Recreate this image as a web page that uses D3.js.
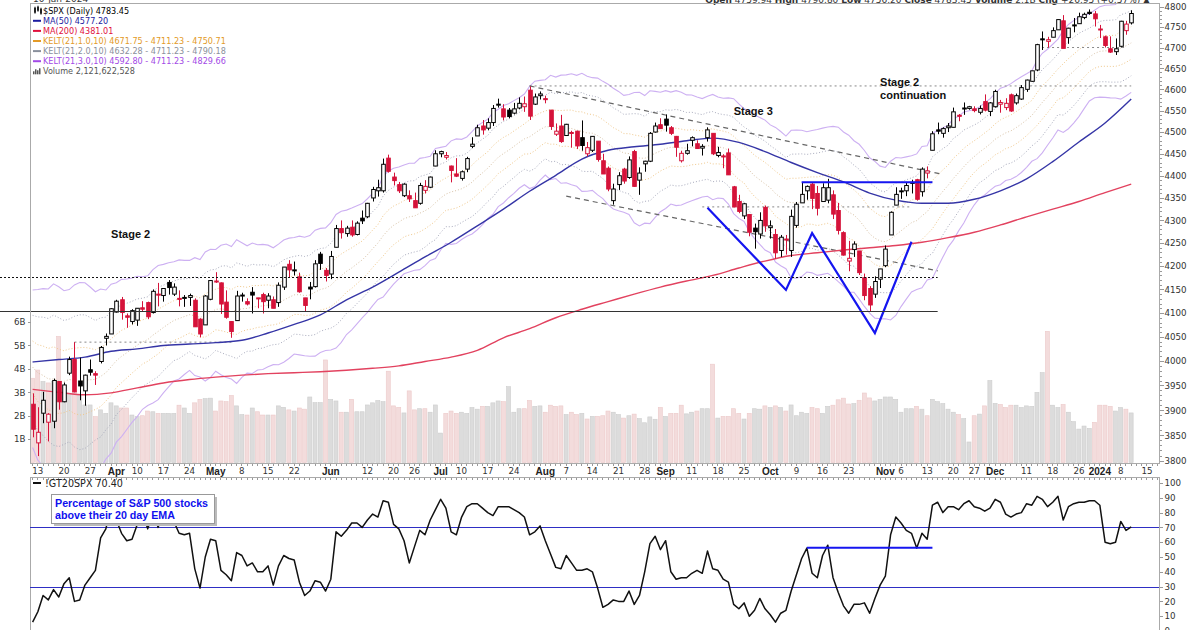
<!DOCTYPE html>
<html>
<head>
<meta charset="utf-8">
<script src="https://cdn.jsdelivr.net/npm/d3@7"></script>
<style>
  body { margin: 0; background: #fff; }
  svg { display: block; }
  .ax text { font-family: "DejaVu Sans", Verdana, sans-serif; font-size: 8.7px; fill: #333; }
  .ax line, .ax path { stroke: #999; shape-rendering: crispEdges; }
</style>
</head>
<body>
<div id="chart"></div>
<script>
// $SPX daily: [date, open, high, low, close]
const candles = [
["2023-03-10",3912,3934,3846,3862],["2023-03-13",3835,3906,3809,3856],["2023-03-14",3894,3937,3874,3920],
["2023-03-15",3876,3894,3838,3892],["2023-03-16",3878,3964,3864,3960],["2023-03-17",3958,3959,3901,3917],
["2023-03-20",3917,3956,3916,3951],["2023-03-21",3975,4009,3971,4003],["2023-03-22",4003,4039,3936,3937],
["2023-03-23",3959,4007,3920,3949],["2023-03-24",3939,3972,3909,3971],["2023-03-27",3982,4003,3970,3977],
["2023-03-28",3974,3979,3951,3971],["2023-03-29",3999,4031,3995,4028],["2023-03-30",4047,4057,4032,4051],
["2023-03-31",4056,4110,4056,4109],["2023-04-03",4102,4128,4101,4125],["2023-04-04",4128,4134,4086,4101],
["2023-04-05",4094,4099,4069,4091],["2023-04-06",4082,4108,4076,4105],["2023-04-10",4085,4110,4073,4110],
["2023-04-11",4111,4125,4103,4108],["2023-04-12",4122,4124,4087,4092],["2023-04-13",4101,4150,4099,4146],
["2023-04-14",4140,4164,4114,4138],["2023-04-17",4137,4152,4124,4152],["2023-04-18",4165,4170,4139,4154],
["2023-04-19",4140,4163,4136,4155],["2023-04-20",4131,4148,4114,4130],["2023-04-21",4132,4138,4113,4133],
["2023-04-24",4133,4141,4115,4137],["2023-04-25",4127,4131,4071,4071],["2023-04-26",4087,4089,4049,4056],
["2023-04-27",4075,4138,4075,4136],["2023-04-28",4129,4170,4127,4169],["2023-05-01",4166,4187,4164,4168],
["2023-05-02",4164,4165,4098,4119],["2023-05-03",4123,4148,4088,4091],["2023-05-04",4082,4083,4048,4061],
["2023-05-05",4084,4147,4084,4136],["2023-05-08",4136,4143,4124,4138],["2023-05-09",4124,4131,4116,4119],
["2023-05-10",4144,4155,4099,4138],["2023-05-11",4132,4132,4110,4131],["2023-05-12",4139,4143,4099,4124],
["2023-05-15",4127,4142,4110,4136],["2023-05-16",4128,4135,4110,4110],["2023-05-17",4122,4165,4113,4159],
["2023-05-18",4155,4198,4149,4198],["2023-05-19",4204,4213,4176,4192],["2023-05-22",4191,4210,4180,4192],
["2023-05-23",4177,4186,4143,4145],["2023-05-24",4132,4132,4104,4116],["2023-05-25",4155,4166,4129,4151],
["2023-05-26",4156,4213,4154,4205],["2023-05-30",4226,4231,4192,4206],["2023-05-31",4191,4196,4167,4180],
["2023-06-01",4183,4233,4172,4221],["2023-06-02",4241,4290,4241,4282],["2023-06-05",4282,4300,4260,4273],
["2023-06-06",4271,4288,4264,4283],["2023-06-07",4285,4300,4264,4268],["2023-06-08",4269,4298,4267,4294],
["2023-06-09",4305,4322,4292,4299],["2023-06-12",4308,4339,4305,4338],["2023-06-13",4350,4375,4342,4369],
["2023-06-14",4366,4391,4353,4373],["2023-06-15",4366,4439,4362,4426],["2023-06-16",4440,4448,4407,4410],
["2023-06-20",4397,4407,4378,4389],["2023-06-21",4380,4386,4361,4366],["2023-06-22",4355,4383,4352,4381],
["2023-06-23",4355,4367,4341,4348],["2023-06-26",4344,4362,4328,4328],["2023-06-27",4338,4384,4335,4378],
["2023-06-28",4367,4390,4360,4376],["2023-06-29",4374,4398,4372,4397],["2023-06-30",4422,4458,4422,4450],
["2023-07-03",4450,4457,4442,4455],["2023-07-05",4442,4454,4437,4446],["2023-07-06",4422,4423,4385,4412],
["2023-07-07",4404,4440,4397,4399],["2023-07-10",4394,4412,4389,4409],["2023-07-11",4415,4443,4408,4439],
["2023-07-12",4467,4488,4463,4472],["2023-07-13",4491,4517,4491,4510],["2023-07-14",4514,4528,4494,4505],
["2023-07-17",4509,4532,4504,4522],["2023-07-18",4522,4563,4514,4555],["2023-07-19",4563,4578,4557,4565],
["2023-07-20",4554,4565,4527,4535],["2023-07-21",4551,4556,4532,4536],["2023-07-24",4544,4568,4541,4554],
["2023-07-25",4556,4581,4553,4567],["2023-07-26",4559,4583,4547,4566],["2023-07-27",4598,4607,4528,4537],
["2023-07-28",4565,4590,4563,4582],["2023-07-31",4585,4595,4576,4589],["2023-08-01",4578,4585,4567,4577],
["2023-08-02",4551,4551,4505,4513],["2023-08-03",4495,4520,4491,4502],["2023-08-04",4514,4540,4475,4478],
["2023-08-07",4492,4519,4492,4518],["2023-08-08",4498,4503,4464,4499],["2023-08-09",4502,4503,4461,4468],
["2023-08-10",4487,4527,4457,4469],["2023-08-11",4450,4477,4444,4464],["2023-08-14",4458,4490,4454,4490],
["2023-08-15",4479,4479,4432,4437],["2023-08-16",4434,4450,4404,4404],["2023-08-17",4417,4421,4365,4370],
["2023-08-18",4344,4382,4335,4370],["2023-08-21",4380,4408,4368,4400],["2023-08-22",4415,4418,4382,4388],
["2023-08-23",4396,4444,4393,4436],["2023-08-24",4455,4459,4375,4376],["2023-08-25",4390,4419,4357,4406],
["2023-08-28",4427,4434,4409,4433],["2023-08-29",4433,4500,4431,4497],["2023-08-30",4500,4522,4499,4514],
["2023-08-31",4517,4532,4508,4508],["2023-09-01",4530,4541,4501,4516],["2023-09-05",4510,4514,4493,4497],
["2023-09-06",4490,4491,4443,4465],["2023-09-07",4434,4457,4430,4451],["2023-09-08",4451,4473,4448,4457],
["2023-09-11",4481,4490,4467,4487],["2023-09-12",4473,4481,4461,4462],["2023-09-13",4463,4472,4446,4467],
["2023-09-14",4487,4511,4478,4505],["2023-09-15",4497,4497,4447,4450],["2023-09-18",4446,4466,4442,4453],
["2023-09-19",4445,4449,4417,4444],["2023-09-20",4452,4462,4402,4402],["2023-09-21",4375,4377,4329,4330],
["2023-09-22",4342,4357,4316,4320],["2023-09-25",4310,4339,4303,4337],["2023-09-26",4313,4313,4265,4274],
["2023-09-27",4283,4293,4238,4275],["2023-09-28",4270,4318,4260,4300],["2023-09-29",4329,4333,4275,4288],
["2023-10-02",4284,4300,4260,4288],["2023-10-03",4269,4281,4216,4229],["2023-10-04",4234,4268,4220,4263],
["2023-10-05",4259,4268,4225,4258],["2023-10-06",4234,4324,4220,4309],["2023-10-09",4289,4341,4284,4336],
["2023-10-10",4339,4385,4339,4358],["2023-10-11",4366,4378,4346,4376],["2023-10-12",4381,4385,4325,4349],
["2023-10-13",4360,4377,4311,4327],["2023-10-16",4342,4383,4342,4373],["2023-10-17",4345,4393,4338,4373],
["2023-10-18",4357,4367,4303,4314],["2023-10-19",4322,4339,4269,4278],["2023-10-20",4273,4276,4223,4224],
["2023-10-23",4211,4255,4189,4217],["2023-10-24",4236,4254,4220,4248],["2023-10-25",4233,4233,4181,4186],
["2023-10-26",4175,4184,4127,4137],["2023-10-27",4152,4157,4104,4117],["2023-10-30",4140,4178,4132,4167],
["2023-10-31",4172,4194,4153,4194],["2023-11-01",4201,4245,4198,4237],["2023-11-02",4268,4320,4268,4318],
["2023-11-03",4334,4374,4334,4358],["2023-11-06",4365,4373,4348,4366],["2023-11-07",4366,4386,4354,4378],
["2023-11-08",4385,4391,4360,4383],["2023-11-09",4391,4393,4344,4347],["2023-11-10",4364,4419,4353,4415],
["2023-11-13",4406,4421,4394,4411],["2023-11-14",4458,4502,4458,4496],["2023-11-15",4505,4522,4495,4502],
["2023-11-16",4497,4511,4487,4508],["2023-11-17",4510,4521,4500,4514],["2023-11-20",4511,4557,4511,4547],
["2023-11-21",4539,4542,4525,4538],["2023-11-22",4554,4569,4540,4556],["2023-11-24",4555,4561,4552,4559],
["2023-11-27",4554,4560,4546,4550],["2023-11-28",4546,4562,4541,4555],["2023-11-29",4571,4588,4548,4551],
["2023-11-30",4548,4570,4537,4568],["2023-12-01",4559,4599,4557,4595],["2023-12-04",4565,4575,4545,4569],
["2023-12-05",4557,4579,4551,4567],["2023-12-06",4587,4590,4547,4549],["2023-12-07",4568,4590,4564,4585],
["2023-12-08",4577,4610,4575,4604],["2023-12-11",4600,4623,4594,4622],["2023-12-12",4619,4644,4618,4644],
["2023-12-13",4646,4709,4643,4707],["2023-12-14",4721,4739,4694,4720],["2023-12-15",4715,4726,4700,4719],
["2023-12-18",4725,4749,4725,4741],["2023-12-19",4743,4768,4743,4768],["2023-12-20",4765,4779,4698,4698],
["2023-12-21",4724,4748,4709,4747],["2023-12-22",4753,4772,4737,4755],["2023-12-26",4758,4785,4758,4775],
["2023-12-27",4773,4785,4769,4781],["2023-12-28",4786,4793,4780,4783],["2023-12-29",4782,4789,4751,4770],
["2024-01-02",4745,4755,4723,4743],["2024-01-03",4726,4729,4700,4705],["2024-01-04",4697,4727,4687,4689],
["2024-01-05",4690,4722,4682,4697],["2024-01-08",4703,4765,4700,4764],["2024-01-09",4741,4765,4731,4757],
["2024-01-10",4760,4791,4756,4783]
];
const prevClose0 = 3918; // close before the first bar

// empty slots to the right of the last bar
const futureSlots = ["2024-01-11", "2024-01-12", "2024-01-16", "2024-01-17", "2024-01-18"];

// daily volume, billions
const volumes = [
3.6,3.95,3.46,3.4,3.46,5.38,3.03,2.96,3.03,2.9,2.46,
2.46,1.96,2.25,2.1,2.55,2.42,2.33,2.33,2.03,1.96,
2.0,2.2,2.17,2.1,2.1,2.1,2.1,2.45,2.33,2.1,
2.55,2.7,2.73,2.75,2.2,2.63,2.6,2.86,2.42,2.05,
2.03,2.33,2.17,2.03,2.03,2.03,2.42,2.36,2.25,2.2,
2.33,2.28,2.8,2.56,2.56,4.38,2.7,2.63,2.15,2.15,
2.7,2.17,2.17,2.46,2.55,2.65,2.6,3.9,2.42,2.36,
2.12,3.06,2.25,2.3,2.3,2.15,2.46,1.26,2.1,2.2,
2.1,2.15,2.1,2.35,2.28,2.4,2.4,2.55,2.63,2.6,
3.24,2.15,2.3,2.3,2.65,2.4,2.42,2.15,2.45,2.4,
2.42,2.05,2.15,2.05,2.1,1.86,1.97,1.97,2.0,2.2,
2.15,2.05,1.9,2.0,2.07,1.88,1.7,1.95,1.85,2.35,
1.97,2.1,2.1,2.45,2.08,2.15,2.2,2.3,2.3,4.2,
1.9,1.97,1.97,2.3,2.1,1.86,2.1,2.3,2.28,2.42,
2.35,2.42,2.35,2.2,2.46,2.0,2.15,2.1,2.35,2.3,
2.1,2.4,2.45,2.68,2.75,2.5,2.52,2.66,2.97,2.76,
2.63,2.7,2.8,2.8,2.7,2.15,2.3,2.3,2.4,2.28,
2.0,2.7,2.6,2.52,2.28,2.15,2.05,1.88,0.88,2.0,
2.07,2.42,3.5,2.53,2.48,2.35,2.45,2.45,2.35,2.42,
2.4,3.0,3.84,5.6,2.45,2.35,2.48,2.15,1.75,1.43,
1.56,1.46,1.72,2.45,2.45,2.4,2.2,2.35,2.28,2.12
];

// !GT20SPX, percent of S&P 500 stocks above their 20 day EMA
const gt20 = [
6,13,24,21,28,23,32,36,20,21, 31,36,41,63,69,84,75,66,61,62,
72,80,69,80,70,82,84,74,66,65, 66,42,29,50,62,61,41,38,34,53,
51,44,46,40,40,44,31,44,51,49, 48,33,24,27,34,33,27,35,67,64,
68,73,73,70,75,79,77,88,87,72, 69,61,46,57,68,65,75,82,89,83,
67,65,77,84,86,86,83,80,78,84, 84,84,82,80,77,65,67,71,61,52,
43,42,51,46,41,41,42,40,29,16, 18,21,20,20,27,18,24,40,59,64,
55,61,40,35,36,36,39,41,39,54, 42,41,35,33,18,15,19,10,14,22,
15,11,6,12,14,27,38,49,56,39, 36,51,58,36,26,17,12,18,18,19,
12,22,31,37,65,77,73,68,66,56, 66,62,85,87,80,84,84,82,86,88,
84,83,81,83,89,87,79,77,79,80, 86,85,91,89,84,87,91,75,84,86,
87,87,88,88,85,60,59,60,74,68, 70.4
];

// moving averages, sampled weekly off the chart
const ma50 = [
["2023-03-10",3998],["2023-03-17",4003],["2023-03-24",4008],["2023-03-31",4020],["2023-04-10",4025],
["2023-04-17",4032],["2023-04-24",4035],["2023-05-01",4038],["2023-05-08",4043],["2023-05-15",4058],
["2023-05-22",4076],["2023-05-30",4096],["2023-06-06",4128],["2023-06-13",4155],["2023-06-21",4187],
["2023-06-28",4220],["2023-07-06",4252],["2023-07-13",4288],["2023-07-20",4325],["2023-07-27",4365],
["2023-08-03",4401],["2023-08-10",4438],["2023-08-17",4458],["2023-08-24",4466],["2023-08-31",4472],
["2023-09-08",4480],["2023-09-15",4486],["2023-09-22",4476],["2023-09-29",4455],["2023-10-06",4430],
["2023-10-13",4407],["2023-10-20",4386],["2023-10-27",4361],["2023-11-03",4345],["2023-11-10",4338],
["2023-11-17",4338],["2023-11-27",4347],["2023-12-04",4366],["2023-12-11",4393],["2023-12-18",4432],
["2023-12-26",4477],["2024-01-03",4521],["2024-01-10",4577]
];
const ma200 = [
["2023-03-10",3942],["2023-03-17",3936],["2023-03-24",3931],["2023-03-31",3935],["2023-04-10",3945],
["2023-04-17",3955],["2023-04-24",3962],["2023-05-01",3967],["2023-05-08",3971],["2023-05-15",3974],
["2023-05-22",3976],["2023-05-30",3978],["2023-06-06",3981],["2023-06-13",3985],["2023-06-21",3990],
["2023-06-28",3999],["2023-07-06",4008],["2023-07-13",4022],["2023-07-20",4048],["2023-07-27",4067],
["2023-08-03",4090],["2023-08-10",4108],["2023-08-17",4124],["2023-08-24",4140],["2023-08-31",4155],
["2023-09-08",4168],["2023-09-15",4180],["2023-09-22",4196],["2023-09-29",4211],["2023-10-06",4223],
["2023-10-13",4229],["2023-10-20",4235],["2023-10-27",4240],["2023-11-03",4245],["2023-11-10",4252],
["2023-11-17",4262],["2023-11-27",4274],["2023-12-04",4290],["2023-12-11",4308],["2023-12-18",4325],
["2023-12-26",4342],["2024-01-03",4362],["2024-01-10",4381]
];

// Keltner seeds (EMA21 and ATR10 going into the first bar)
const keltSeed = { ema: 4000, atr: 50 };
const keltMults = [1, 2, 3];

// x axis labels
const weekTicks = [
["2023-03-13","13"],["2023-03-20","20"],["2023-03-27","27"],["2023-04-10","10"],["2023-04-17","17"],
["2023-04-24","24"],["2023-05-08","8"],["2023-05-15","15"],["2023-05-22","22"],["2023-06-12","12"],
["2023-06-20","20"],["2023-06-26","26"],["2023-07-10","10"],["2023-07-17","17"],["2023-07-24","24"],
["2023-08-07","7"],["2023-08-14","14"],["2023-08-21","21"],["2023-08-28","28"],["2023-09-11","11"],
["2023-09-18","18"],["2023-09-25","25"],["2023-10-09","9"],["2023-10-16","16"],["2023-10-23","23"],
["2023-11-06","6"],["2023-11-13","13"],["2023-11-20","20"],["2023-11-27","27"],["2023-12-11","11"],
["2023-12-18","18"],["2023-12-26","26"],["2024-01-08","8"],["2024-01-16","15"]
];
const monthTicks = [
["2023-04-03","Apr"],["2023-05-01","May"],["2023-06-01","Jun"],["2023-07-03","Jul"],["2023-08-01","Aug"],
["2023-09-01","Sep"],["2023-10-02","Oct"],["2023-11-01","Nov"],["2023-12-01","Dec"],["2024-01-02","2024"]
];

// hand drawn annotations, in [date, price]
const trendLines = [
  [["2023-07-27", 4608], ["2023-11-16", 4403]],
  [["2023-08-07", 4354], ["2023-11-15", 4190]]
];
const wPattern = [["2023-09-14",4328],["2023-10-05",4149],["2023-10-12",4272],["2023-10-30",4058],["2023-11-08",4253]];
const resistance = { from: "2023-10-10", to: "2023-11-14", price: 4385 };
const dottedLevels = [
  { from: "2023-07-27", to: "2024-01-10", price: 4608 },
  { from: "2023-12-13", to: "2024-01-09", price: 4700 },
  { from: "2023-09-13", to: "2023-11-08", price: 4330 },
  { from: "2023-03-22", to: "2023-05-04", price: 4039 }
];
const wideLevels = [ // these run in from the left edge
  { to: "2023-11-15", price: 4177, dash: "2,2" },
  { to: "2023-11-15", price: 4104, dash: null }
];
const stageLabels = [
  { d: "2023-03-31", p: 4261, lines: ["Stage 2"] },
  { d: "2023-09-21", p: 4540, lines: ["Stage 3"] },
  { d: "2023-10-31", p: 4608, lines: ["Stage 2", "continuation"] }
];
const gt20Level = { from: "2023-10-11", to: "2023-11-14", value: 56.3 };

const legendRows = [
  { icon: "candle", text: "$SPX (Daily) 4783.45", color: "#000" },
  { icon: "line", text: "MA(50) 4577.20", color: "#1c1ca0" },
  { icon: "line", text: "MA(200) 4381.01", color: "#e0103c" },
  { icon: "line", text: "KELT(21,1.0,10) 4671.75 - 4711.23 - 4750.71", color: "#e39a28" },
  { icon: "line", text: "KELT(21,2.0,10) 4632.28 - 4711.23 - 4790.18", color: "#8a909c" },
  { icon: "line", text: "KELT(21,3.0,10) 4592.80 - 4711.23 - 4829.66", color: "#a24ae6" },
  { icon: "vol", text: "Volume 2,121,622,528", color: "#555" }
];

// ---------------------------------------------------------------
const W = 1200, H = 630;
const pl = 30, pr = 1159, pt = 3, pb = 463; // price panel
const lt = 477; // lower panel top
const red = "#d5133a";
const font = '"DejaVu Sans", Verdana, sans-serif';
const boldFont = '"Liberation Sans", Arial, sans-serif';

const dates = candles.map((d) => d[0]);
const slots = dates.concat(futureSlots);

const x = d3.scaleBand().domain(slots).range([pl, pr + 1]).paddingInner(0);
const cx = (d) => x(d) + x.bandwidth() / 2;
const y = d3.scaleLog().domain([3800, 4800]).range([460.7, 6.6]);
const yv = d3.scaleLinear().domain([0, 6]).range([462.6, 322]);
const yg = d3.scaleLinear().domain([0, 100]).range([631, 483]);

const svg = d3.select("#chart").append("svg").attr("width", W).attr("height", H);
svg.append("rect").attr("width", W).attr("height", H).attr("fill", "#fff");

svg.append("clipPath").attr("id", "pclip").append("rect")
  .attr("x", pl).attr("y", pt).attr("width", pr - pl).attr("height", pb - pt);
svg.append("clipPath").attr("id", "lclip").append("rect")
  .attr("x", pl).attr("y", lt).attr("width", pr - pl).attr("height", H - lt);

// header, mostly cut off by the top of the image (as in the original)
svg.append("text").attr("x", 33).attr("y", 2).attr("font-family", font).attr("font-size", 9)
  .attr("fill", "#333").text("10-Jan-2024");
const hdr = svg.append("text").attr("x", 1150).attr("y", 2.5).attr("text-anchor", "end")
  .attr("font-family", font).attr("font-size", 9).attr("fill", "#333");
[["Open", " 4759.94 "], ["High", " 4790.80 "], ["Low", " 4756.20 "], ["Close", " 4783.45 "],
 ["Volume", " 2.1B "], ["Chg", " +26.95 (+0.57%) \u25B2"]].forEach(([k, v]) => {
  hdr.append("tspan").attr("font-weight", "bold").text(k);
  hdr.append("tspan").text(v);
});

const price = svg.append("g").attr("clip-path", "url(#pclip)");

// volume bars
const closeBefore = (i) => (i === 0 ? prevClose0 : candles[i - 1][4]);
price.append("g").selectAll("rect").data(candles).join("rect")
  .attr("x", (d) => x(d[0]) + 0.5)
  .attr("width", x.bandwidth() - 1.2)
  .attr("y", (d, i) => yv(volumes[i]))
  .attr("height", (d, i) => yv(0) - yv(volumes[i]))
  .attr("fill", (d, i) => (d[4] < closeBefore(i) ? "#f3dcdc" : "#dcdcdc"))
  .attr("stroke", (d, i) => (d[4] < closeBefore(i) ? "#ecc9c9" : "#cdcdcd"))
  .attr("stroke-width", 0.6);

// Keltner channels from the bars
let ema = keltSeed.ema, atr = keltSeed.atr;
const kelt = candles.map(([d, o, h, l, c], i) => {
  const pc = closeBefore(i);
  const tr = Math.max(h - l, Math.abs(h - pc), Math.abs(l - pc));
  atr = (atr * 9 + tr) / 10;
  ema = ema + ((c - ema) * 2) / 22;
  return { d, mid: ema, atr };
});
const keltStyle = {
  1: { stroke: "#f0c88c", dash: "1,2", w: 1 },
  2: { stroke: "#a9abbd", dash: "1,2", w: 1 },
  3: { stroke: "#cdb0f2", dash: null, w: 1.1 }
};
const kline = d3.line().x((d) => cx(d.d));
keltMults.forEach((m) => {
  [1, -1].forEach((s) => {
    price.append("path").datum(kelt)
      .attr("d", kline.y((d) => y(d.mid + s * m * d.atr)))
      .attr("fill", "none").attr("stroke", keltStyle[m].stroke)
      .attr("stroke-width", keltStyle[m].w)
      .attr("stroke-dasharray", keltStyle[m].dash);
  });
});
price.append("path").datum(kelt).attr("d", kline.y((d) => y(d.mid)))
  .attr("fill", "none").attr("stroke", "#d8c2a6").attr("stroke-dasharray", "1,2");

// dotted / dashed levels and trendlines
dottedLevels.forEach((l) => {
  price.append("line").attr("x1", cx(l.from)).attr("x2", cx(l.to))
    .attr("y1", y(l.price)).attr("y2", y(l.price))
    .attr("stroke", "#888").attr("stroke-dasharray", "2,3");
});
trendLines.forEach((t) => {
  price.append("line").attr("x1", cx(t[0][0])).attr("y1", y(t[0][1]))
    .attr("x2", cx(t[1][0])).attr("y2", y(t[1][1]))
    .attr("stroke", "#666").attr("stroke-width", 1.2).attr("stroke-dasharray", "5,4");
});

// moving averages
const maLine = d3.line().x((d) => cx(d[0])).y((d) => y(d[1])).curve(d3.curveMonotoneX);
price.append("path").datum(ma200).attr("d", maLine).attr("fill", "none")
  .attr("stroke", "#e2425f").attr("stroke-width", 1.4);
price.append("path").datum(ma50).attr("d", maLine).attr("fill", "none")
  .attr("stroke", "#3535a6").attr("stroke-width", 1.4);

// candles
const bw = 3.6;
const cg = price.append("g").selectAll("g").data(candles).join("g");
const candleColor = (d, i) => (d[4] < closeBefore(i) ? red : "#000");
cg.append("line")
  .attr("x1", (d) => Math.round(cx(d[0])) + 0.5).attr("x2", (d) => Math.round(cx(d[0])) + 0.5)
  .attr("y1", (d) => y(d[2])).attr("y2", (d) => y(d[3]))
  .attr("stroke", candleColor).attr("stroke-width", 1);
cg.append("rect")
  .attr("x", (d) => Math.round(cx(d[0])) + 0.5 - bw / 2)
  .attr("width", bw)
  .attr("y", (d) => y(Math.max(d[1], d[4])))
  .attr("height", (d) => Math.max(1, y(Math.min(d[1], d[4])) - y(Math.max(d[1], d[4]))))
  .attr("fill", (d, i) => (d[4] >= d[1] ? "#fff" : candleColor(d, i)))
  .attr("stroke", candleColor).attr("stroke-width", 1);

// blue annotations
price.append("line").attr("x1", cx(resistance.from)).attr("x2", cx(resistance.to))
  .attr("y1", y(resistance.price)).attr("y2", y(resistance.price))
  .attr("stroke", "#1515f0").attr("stroke-width", 2);
price.append("path").datum(wPattern)
  .attr("d", d3.line().x((d) => cx(d[0])).y((d) => y(d[1])))
  .attr("fill", "none").attr("stroke", "#1515f0").attr("stroke-width", 2.2);

// levels that run in from the left edge of the image
wideLevels.forEach((l) => {
  svg.append("line").attr("x1", 0).attr("x2", cx(l.to))
    .attr("y1", Math.round(y(l.price)) + 0.5).attr("y2", Math.round(y(l.price)) + 0.5)
    .attr("stroke", l.dash ? "#111" : "#333").attr("stroke-width", 1)
    .attr("stroke-dasharray", l.dash);
});

// stage labels
stageLabels.forEach((s) => {
  const t = svg.append("text").attr("x", cx(s.d)).attr("y", y(s.p))
    .attr("font-family", boldFont).attr("font-weight", "bold").attr("font-size", 11).attr("fill", "#111");
  s.lines.forEach((ln, i) => t.append("tspan").attr("x", cx(s.d)).attr("dy", i ? 13 : 0).text(ln));
});

// panel frames
svg.append("rect").attr("x", pl + 0.5).attr("y", pt + 0.5).attr("width", pr - pl).attr("height", pb - pt)
  .attr("fill", "none").attr("stroke", "#aaa");
svg.append("rect").attr("x", pl + 0.5).attr("y", lt + 0.5).attr("width", pr - pl).attr("height", H)
  .attr("fill", "none").attr("stroke", "#aaa");

// price axis (right)
svg.append("g").attr("class", "ax").attr("transform", `translate(${pr + 0.5},0)`)
  .call(d3.axisRight(y).tickValues(d3.range(3800, 4801, 10)).tickSize(2).tickFormat(""))
  .call((g) => g.select(".domain").remove());
svg.append("g").attr("class", "ax").attr("transform", `translate(${pr + 0.5},0)`)
  .call(d3.axisRight(y).tickValues(d3.range(3800, 4801, 50)).tickSize(4).tickPadding(1).tickFormat(d3.format("d")))
  .call((g) => g.select(".domain").remove());

// volume axis (left)
svg.append("g").attr("class", "ax").attr("transform", `translate(${pl + 0.5},0)`)
  .call(d3.axisLeft(yv).tickValues([1, 2, 3, 4, 5, 6]).tickSize(3).tickPadding(2).tickFormat((d) => d + "B"))
  .call((g) => g.select(".domain").remove());

// day ticks
[pb + 0.5, lt + 0.5].forEach((yy) => {
  svg.append("g").attr("class", "ax").attr("transform", `translate(0,${yy})`)
    .call(d3.axisBottom(x).tickValues(slots).tickSize(2).tickFormat(""))
    .call((g) => g.select(".domain").remove())
    .call((g) => g.selectAll("line").attr("stroke", "#b0b0b0"));
});

// date labels
svg.append("g").selectAll("text").data(weekTicks).join("text")
  .attr("x", (d) => cx(d[0])).attr("y", 474).attr("text-anchor", "middle")
  .attr("font-family", font).attr("font-size", 8.7).attr("fill", "#333").text((d) => d[1]);
svg.append("g").selectAll("text").data(monthTicks).join("text")
  .attr("x", (d) => cx(d[0])).attr("y", 474.5).attr("text-anchor", "middle")
  .attr("font-family", boldFont).attr("font-weight", "bold").attr("font-size", 10).attr("fill", "#222")
  .text((d) => d[1]);

// legend
const lg = svg.append("g");
legendRows.forEach((r, i) => {
  const cy = 10.7 + i * 10.1;
  if (r.icon === "line") {
    lg.append("line").attr("x1", 33).attr("x2", 41).attr("y1", cy).attr("y2", cy)
      .attr("stroke", r.color).attr("stroke-width", 2);
  } else if (r.icon === "candle") {
    [[34, -3, 5], [37, -4, 4], [40, -2, 5]].forEach(([bx, t, h]) => {
      lg.append("line").attr("x1", bx + 1).attr("x2", bx + 1).attr("y1", cy + t - 1).attr("y2", cy + t + h + 1)
        .attr("stroke", "#222");
      lg.append("rect").attr("x", bx).attr("y", cy + t).attr("width", 2).attr("height", h).attr("fill", "#222");
    });
  } else {
    [[33, 3], [35, 5], [37, 4], [39, 6]].forEach(([bx, h]) => {
      lg.append("rect").attr("x", bx).attr("y", cy + 3 - h).attr("width", 1.5).attr("height", h).attr("fill", "#555");
    });
  }
  lg.append("text").attr("x", 43).attr("y", cy + 3).attr("font-family", font).attr("font-size", 8.1)
    .attr("fill", r.color).text(r.text);
});

// ---------------- lower panel: !GT20SPX ----------------
const lower = svg.append("g").attr("clip-path", "url(#lclip)");
[70, 30].forEach((v) => {
  lower.append("line").attr("x1", pl).attr("x2", pr).attr("y1", Math.round(yg(v)) + 0.5).attr("y2", Math.round(yg(v)) + 0.5)
    .attr("stroke", "#2e2ec4").attr("stroke-width", 1);
});
lower.append("path").datum(gt20)
  .attr("d", d3.line().x((d, i) => cx(dates[i])).y((d) => yg(d)))
  .attr("fill", "none").attr("stroke", "#111").attr("stroke-width", 1.5).attr("stroke-linejoin", "round");
lower.append("line").attr("x1", cx(gt20Level.from)).attr("x2", cx(gt20Level.to))
  .attr("y1", yg(gt20Level.value)).attr("y2", yg(gt20Level.value))
  .attr("stroke", "#1515f0").attr("stroke-width", 2);

svg.append("g").attr("class", "ax").attr("transform", `translate(${pr + 0.5},0)`)
  .call(d3.axisRight(yg).tickValues(d3.range(0, 101, 10)).tickSize(3).tickPadding(2))
  .call((g) => g.select(".domain").remove());

// lower panel legend
svg.append("line").attr("x1", 33).attr("x2", 41).attr("y1", 483).attr("y2", 483).attr("stroke", "#111").attr("stroke-width", 2);
svg.append("text").attr("x", 45).attr("y", 486.5).attr("font-family", font).attr("font-size", 9.6)
  .attr("fill", "#222").text("!GT20SPX 70.40");

// annotation box
const note = svg.append("g");
note.append("rect").attr("x", 54).attr("y", 497).attr("width", 163).attr("height", 29).attr("fill", "#bbb");
note.append("rect").attr("x", 51.5).attr("y", 494.5).attr("width", 163).attr("height", 29)
  .attr("fill", "#fff").attr("stroke", "#999");
note.append("text").attr("x", 55).attr("y", 506.5).attr("font-family", boldFont).attr("font-weight", "bold")
  .attr("font-size", 10.7).attr("fill", "#1010ee").text("Percentage of S&P 500 stocks");
note.append("text").attr("x", 55).attr("y", 518.5).attr("font-family", boldFont).attr("font-weight", "bold")
  .attr("font-size", 10.7).attr("fill", "#1010ee").text("above their 20 day EMA");
</script>
</body>
</html>
